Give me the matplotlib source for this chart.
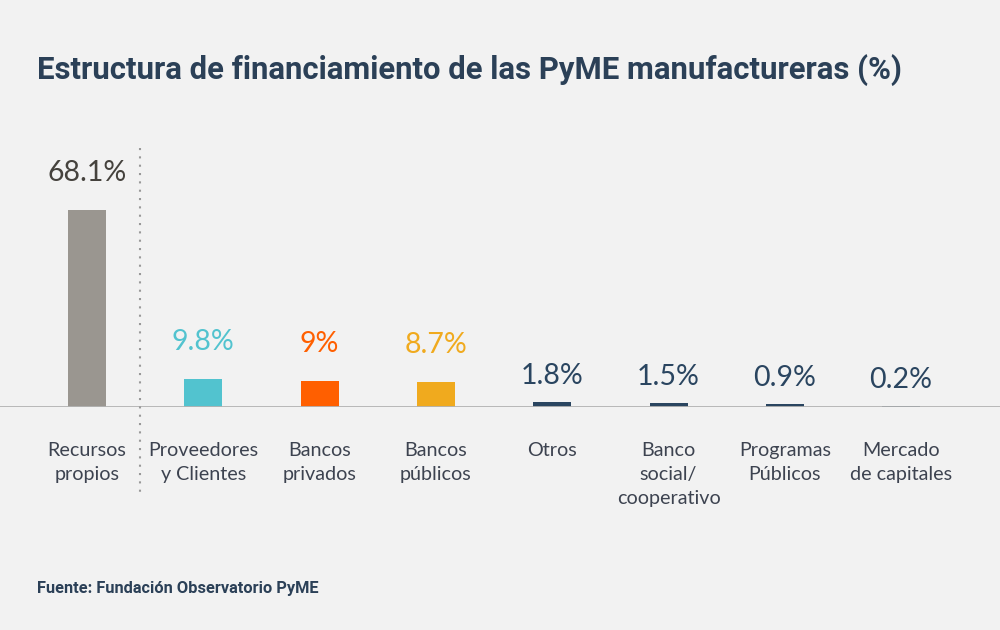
import matplotlib
matplotlib.use("Agg")
import matplotlib.pyplot as plt
from matplotlib.lines import Line2D

categories = ["Recursos\npropios", "Proveedores\ny Clientes", "Bancos\nprivados", "Bancos\npúblicos",
              "Otros", "Banco\nsocial/\ncooperativo", "Programas\nPúblicos", "Mercado\nde capitales"]
values = [68.1, 9.8, 9.0, 8.7, 1.8, 1.5, 0.9, 0.2]
value_labels = ["68.1%", "9.8%", "9%", "8.7%", "1.8%", "1.5%", "0.9%", "0.2%"]
bar_colors = ["#9a9690", "#52c3cf", "#ff5f00", "#f0aa1e", "#2a4560", "#2a4560", "#2a4560", "#2a4560"]
label_colors = ["#45423d", "#52c3cf", "#ff5f00", "#f0aa1e", "#2a4560", "#2a4560", "#2a4560", "#2a4560"]

BG = "#f2f2f2"
W, H = 1000, 630
fig = plt.figure(figsize=(10, 6.3), dpi=100, facecolor=BG)

ax_bottom = (H - 407) / H
ax_height = (407 - 140) / H
ax = fig.add_axes([0, ax_bottom, 1, ax_height])
ax.set_facecolor(BG)
spacing = 116.3
ax.set_xlim(-87 / spacing, (W - 87) / spacing)
px_per_unit = 197 / 68.1
ax.set_ylim(0, (407 - 140) / px_per_unit)
for s in ax.spines.values():
    s.set_visible(False)
ax.set_xticks([])
ax.set_yticks([])

x = list(range(len(values)))
ax.bar(x, values, width=38 / spacing, color=bar_colors, zorder=2)
ax.axhline(0, color="#b3b3b3", lw=1.3, zorder=3)

for i, (v, lab, c) in enumerate(zip(values, value_labels, label_colors)):
    gap = 24 if v > 5 else 13
    ax.annotate(lab, xy=(i, v), xytext=(0, gap * 0.72), textcoords="offset points",
                ha="center", va="bottom", fontsize=20.5, color=c, family="Lato")
    ax.annotate(categories[i], xy=(i, 0), xytext=(0, -35 * 0.72), textcoords="offset points",
                ha="center", va="top", fontsize=14.2, color="#3d4350", family="Lato",
                linespacing=1.5)

fig.add_artist(Line2D([140 / W, 140 / W], [1 - 148 / H, 1 - 495 / H], color="#999999",
                      lw=1.5, linestyle=(0, (1, 3)), transform=fig.transFigure))

fig.text(37 / W, 1 - 70 / H, "Estructura de financiamiento de las PyME manufactureras (%)",
         fontsize=22.4, fontweight="bold", color="#2b4057", family="Roboto", va="center", ha="left")
fig.text(37 / W, 1 - 588 / H, "Fuente: Fundación Observatorio PyME",
         fontsize=11.8, fontweight="bold", color="#2b4057", family="Roboto", va="center", ha="left")

fig.savefig("out.png", dpi=100, facecolor=BG)
